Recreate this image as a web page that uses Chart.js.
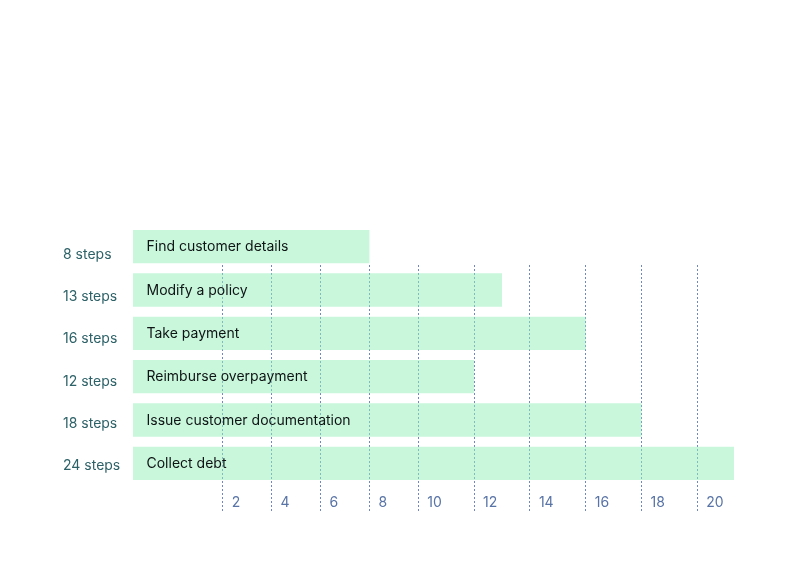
<!DOCTYPE html>
<html>
<head>
<meta charset="utf-8">
<script src="https://cdn.jsdelivr.net/npm/chart.js@4/dist/chart.umd.min.js"></script>
<style>
  html, body { margin: 0; padding: 0; background: #ffffff; }
  #wrap { width: 798px; height: 564px; position: relative; }
</style>
</head>
<body>
<div id="wrap"><canvas id="c" width="798" height="564"></canvas></div>
<script>
// ---- data ----
const stepLabels = ['8 steps', '13 steps', '16 steps', '12 steps', '18 steps', '24 steps'];
const taskNames = ['Find customer details', 'Modify a policy', 'Take payment',
                   'Reimburse overpayment', 'Issue customer documentation', 'Collect debt'];
const stepCounts = [8, 13, 16, 12, 18, 24];
const xTickValues = [2, 4, 6, 8, 10, 12, 14, 16, 18, 20];

// ---- piecewise axis (the reference axis is not evenly spaced) ----
const knotValues = [0, 2, 10, 20, 24];
const knotFractions = [0, 0.1493, 0.4747, 0.9389, 1];

function valueToFraction(v) {
  if (v <= knotValues[0]) return knotFractions[0];
  for (let i = 1; i < knotValues.length; i++) {
    if (v <= knotValues[i]) {
      const t = (v - knotValues[i - 1]) / (knotValues[i] - knotValues[i - 1]);
      return knotFractions[i - 1] + t * (knotFractions[i] - knotFractions[i - 1]);
    }
  }
  const n = knotValues.length - 1;
  const slope = (knotFractions[n] - knotFractions[n - 1]) / (knotValues[n] - knotValues[n - 1]);
  return knotFractions[n] + (v - knotValues[n]) * slope;
}
function fractionToValue(f) {
  for (let i = 1; i < knotFractions.length; i++) {
    if (f <= knotFractions[i]) {
      const t = (f - knotFractions[i - 1]) / (knotFractions[i] - knotFractions[i - 1]);
      return knotValues[i - 1] + t * (knotValues[i] - knotValues[i - 1]);
    }
  }
  return knotValues[knotValues.length - 1];
}

class PiecewiseScale extends Chart.LinearScale {
  getPixelForValue(value) {
    if (value === null || value === undefined || isNaN(value)) return NaN;
    return this.getPixelForDecimal(valueToFraction(value));
  }
  getValueForPixel(pixel) {
    return fractionToValue(this.getDecimalForPixel(pixel));
  }
}
PiecewiseScale.id = 'piecewise';
PiecewiseScale.defaults = Object.assign({}, Chart.LinearScale.defaults);
Chart.register(PiecewiseScale);

Chart.defaults.font.family = 'Inter, "Noto Sans", sans-serif';
Chart.defaults.font.size = 14;

const gridColor = '#7287bd';
const labelAxisMin = -0.692;
const labelAxisMax = 5.449;

// hide the grid above the bottom of the first bar (as in the reference)
const topMask = {
  id: 'topMask',
  beforeDatasetsDraw(chart) {
    const meta = chart.getDatasetMeta(0);
    const first = meta.data[0];
    if (!first) return;
    const {ctx, chartArea} = chart;
    const bottom = first.y + first.height / 2;
    ctx.save();
    ctx.fillStyle = '#ffffff';
    ctx.fillRect(chartArea.left, chartArea.top - 2, chartArea.right - chartArea.left + 4, bottom - chartArea.top + 2);
    ctx.restore();
  }
};

const barText = {
  id: 'barText',
  afterDatasetsDraw(chart) {
    const meta = chart.getDatasetMeta(0);
    const ctx = chart.ctx;
    ctx.save();
    ctx.font = '14px Inter, "Noto Sans", sans-serif';
    ctx.fillStyle = '#0f1414';
    ctx.textAlign = 'left';
    ctx.textBaseline = 'middle';
    meta.data.forEach((bar, i) => {
      ctx.fillText(taskNames[i], bar.base + 13.5, bar.y + 0.5);
    });
    ctx.restore();
  }
};

new Chart(document.getElementById('c'), {
  type: 'bar',
  data: {
    labels: stepLabels,
    datasets: [{
      data: stepCounts,
      xAxisID: 'x',
      yAxisID: 'y',
      backgroundColor: 'rgba(145, 240, 185, 0.5)',
      borderWidth: 0,
      categoryPercentage: 1,
      barPercentage: 0.77
    }]
  },
  options: {
    indexAxis: 'y',
    responsive: false,
    animation: false,
    layout: { padding: { left: 63, right: 64, top: 225, bottom: 39 } },
    plugins: { legend: { display: false }, tooltip: { enabled: false }, title: { display: false } },
    scales: {
      x: {
        type: 'piecewise',
        position: 'bottom',
        min: 0,
        max: 24,
        afterBuildTicks(scale) { scale.ticks = xTickValues.map(v => ({ value: v })); },
        afterFit(scale) { scale.height = 40; },
        grid: {
          color: gridColor,
          lineWidth: 1,
          drawTicks: true,
          tickLength: 26,
          tickColor: gridColor,
          tickBorderDash: [2, 2]
        },
        border: { display: false, dash: [2, 2] },
        ticks: {
          autoSkip: false,
          maxRotation: 0,
          align: 'start',
          labelOffset: 9,
          padding: -17,
          color: '#5873a6',
          font: { size: 14 },
          callback: (v) => String(v)
        }
      },
      y: {
        type: 'category',
        display: false
      },
      yl: {
        type: 'linear',
        axis: 'y',
        position: 'left',
        reverse: true,
        offset: false,
        bounds: 'data',
        grace: 0,
        min: labelAxisMin,
        max: labelAxisMax,
        afterBuildTicks(scale) {
          scale.ticks = stepLabels.map((_, i) => ({ value: i }));
          scale.min = labelAxisMin;
          scale.max = labelAxisMax;
        },
        afterFit(scale) { scale.width = 70; },
        grid: { display: false, drawTicks: false, offset: false },
        border: { display: false },
        ticks: {
          autoSkip: false,
          crossAlign: 'far',
          padding: 0,
          color: '#2c6167',
          font: { size: 14 },
          callback: (v) => stepLabels[v]
        }
      }
    }
  },
  plugins: [topMask, barText]
});
</script>
</body>
</html>
